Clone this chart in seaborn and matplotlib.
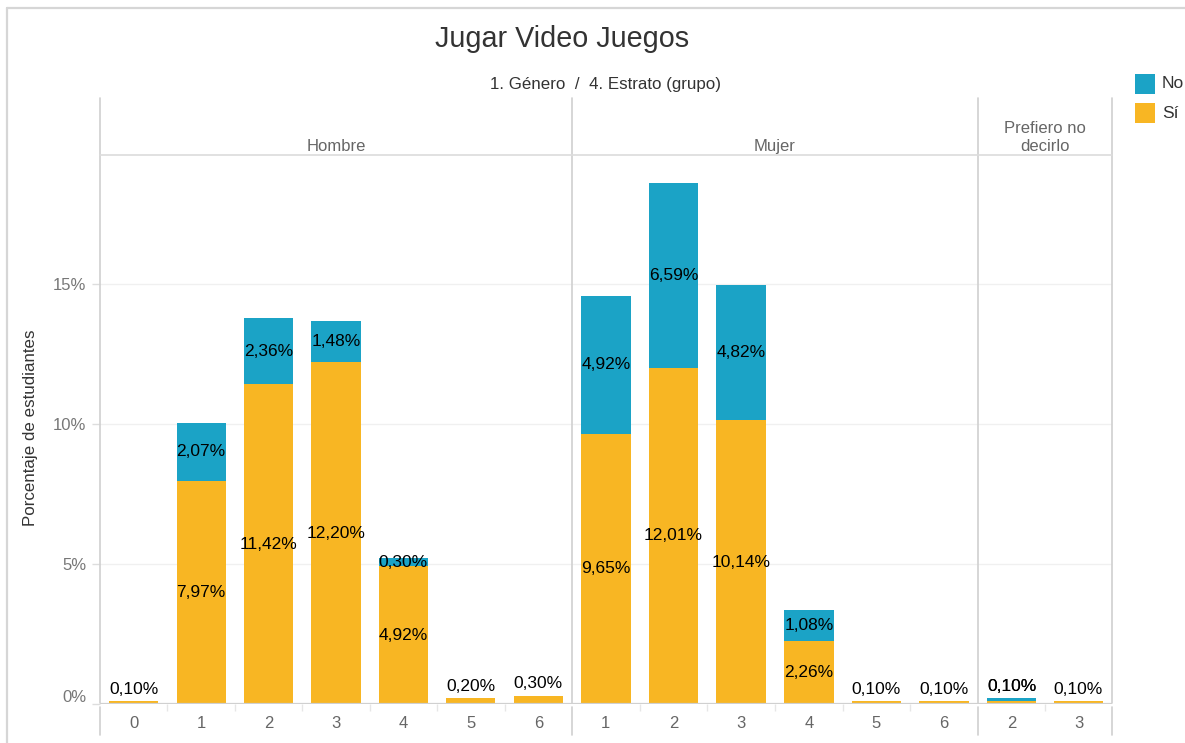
import matplotlib
matplotlib.use("Agg")
import matplotlib.pyplot as plt
from matplotlib.lines import Line2D
from matplotlib.patches import Rectangle
from matplotlib.transforms import ScaledTranslation
import pandas as pd
import seaborn as sns

# ---- data (percent of students) ----
hombre_estratos = ["0", "1", "2", "3", "4", "5", "6"]
hombre_si = [0.10, 7.97, 11.42, 12.20, 4.92, 0.20, 0.30]
hombre_no = [0.00, 2.07, 2.36, 1.48, 0.30, 0.00, 0.00]

mujer_estratos = ["1", "2", "3", "4", "5", "6"]
mujer_si = [9.65, 12.01, 10.14, 2.26, 0.10, 0.10]
mujer_no = [4.92, 6.59, 4.82, 1.08, 0.00, 0.00]

prefiero_estratos = ["2", "3"]
prefiero_si = [0.10, 0.10]
prefiero_no = [0.10, 0.00]

generos = ["Hombre", "Mujer", "Prefiero no\ndecirlo"]
y_ticks = [0, 5, 10, 15]
y_tick_labels = ["0%", "5%", "10%", "15%"]

COLOR_NO = "#1BA3C6"
COLOR_SI = "#F8B623"

sns.set_theme(style="white")
plt.rcParams["font.family"] = ["Liberation Sans", "DejaVu Sans"]

W, H = 1185, 743
fig = plt.figure(figsize=(W / 100, H / 100), dpi=100)


def fx(px):
    return px / W


def fy(py):
    return 1 - py / H


PLOT_TOP, PLOT_BOTTOM, HEAD_TOP = 155, 704, 98
panels = [
    (100, 572, hombre_estratos, hombre_si, hombre_no),
    (572, 978, mujer_estratos, mujer_si, mujer_no),
    (978, 1112, prefiero_estratos, prefiero_si, prefiero_no),
]
YMAX = (PLOT_BOTTOM - PLOT_TOP) / 28.0
LABEL_SIZE = 12.5


def fmt(v):
    return f"{v:.2f}".replace(".", ",") + "%"


for i, (x0, x1, cats, si, no) in enumerate(panels):
    ax = fig.add_axes([fx(x0), fy(PLOT_BOTTOM), fx(x1) - fx(x0),
                       fy(PLOT_TOP) - fy(PLOT_BOTTOM)])
    df = pd.DataFrame({"estrato": cats, "si": si, "no": no})
    df["total"] = df["si"] + df["no"]

    sns.barplot(data=df, x="estrato", y="total", order=cats, color=COLOR_NO,
                saturation=1, width=0.73, errorbar=None, linewidth=0, ax=ax)
    sns.barplot(data=df, x="estrato", y="si", order=cats, color=COLOR_SI,
                saturation=1, width=0.73, errorbar=None, linewidth=0, ax=ax)

    ax.set_xlim(-0.5, len(cats) - 0.5)
    ax.set_ylim(0, YMAX)
    ax.set_xlabel("")
    ax.set_ylabel("")
    for s in ax.spines.values():
        s.set_visible(False)

    ax.set_axisbelow(True)
    for t in y_ticks[1:]:
        ax.axhline(t, color="#f0f0f0", lw=1, zorder=0)
    ax.axhline(0, color="#d0d0d0", lw=1.6, zorder=3)

    ax.set_yticks(y_ticks)
    if i == 0:
        ax.set_yticklabels(y_tick_labels)
        ax.tick_params(axis="y", length=6, width=1, color="#dddddd",
                       labelsize=12, labelcolor="#777777", pad=4, left=True)
        # keep the "0%" label just above the baseline
        zero_lbl = ax.get_yticklabels()[0]
        zero_lbl.set_transform(zero_lbl.get_transform()
                               + ScaledTranslation(0, 8 / 100, fig.dpi_scale_trans))
    else:
        ax.tick_params(axis="y", left=False, labelleft=False)

    ax.tick_params(axis="x", length=0, labelsize=12, labelcolor="#666666", pad=9)
    ax.set_xticks(range(len(cats)), minor=False)
    ax.set_xticks([k + 0.5 for k in range(len(cats) - 1)], minor=True)
    ax.tick_params(axis="x", which="minor", length=5, width=1, color="#e6e6e6",
                   bottom=True)

    # value labels
    for k, row in df.iterrows():
        total = row["total"]
        if total < 1:
            for v in (row["si"], row["no"]):
                if v > 0:
                    ax.annotate(fmt(v), (k, total), xytext=(0, 3),
                                textcoords="offset points", ha="center",
                                va="bottom", fontsize=LABEL_SIZE, color="black")
        else:
            ax.text(k, row["si"] / 2, fmt(row["si"]), ha="center",
                    va="center", fontsize=LABEL_SIZE, color="black")
            if row["no"] > 0:
                ax.text(k, row["si"] + row["no"] / 2, fmt(row["no"]),
                        ha="center", va="center", fontsize=LABEL_SIZE,
                        color="black")

    # facet header
    fig.text(fx((x0 + x1) / 2), fy(154), generos[i], ha="center",
             va="bottom", fontsize=12, color="#666666", linespacing=1.25)

# panel dividers and header rule
div_color = "#d0d0d0"
for xp in (100, 572, 978, 1112):
    fig.add_artist(Line2D([fx(xp), fx(xp)], [fy(HEAD_TOP), fy(PLOT_BOTTOM - 1)],
                          color=div_color, lw=1.2))
    fig.add_artist(Line2D([fx(xp), fx(xp)], [fy(PLOT_BOTTOM + 3), fy(735)],
                          color=div_color, lw=1.2))
fig.add_artist(Line2D([fx(100), fx(1112)], [fy(155), fy(155)],
                      color="#dcdcdc", lw=1.2))

# outer frame (top and left)
fig.add_artist(Line2D([fx(7), fx(W)], [fy(8), fy(8)], color="#d6d6d6", lw=1.6))
fig.add_artist(Line2D([fx(7), fx(7)], [fy(8), fy(H)], color="#d6d6d6", lw=1.6))

# titles
fig.text(fx(562), fy(39), "Jugar Video Juegos", ha="center", va="center",
         fontsize=20.7, color="#333333")
fig.text(fx(606), fy(84), "1. Género  /  4. Estrato (grupo)", ha="center",
         va="center", fontsize=12.2, color="#333333")
fig.text(fx(31), fy(428), "Porcentaje de estudiantes", ha="center",
         va="center", rotation=90, fontsize=12.2, color="#333333")

# legend
for label, color, ypx in (("No", COLOR_NO, 74), ("Sí", COLOR_SI, 103)):
    fig.add_artist(Rectangle((fx(1135), fy(ypx + 20)), fx(20), 20 / H,
                             facecolor=color, edgecolor="none"))
    fig.text(fx(1162), fy(ypx + 10), label, ha="left", va="center",
             fontsize=12.5, color="#333333")

fig.savefig("out.png", dpi=100)
